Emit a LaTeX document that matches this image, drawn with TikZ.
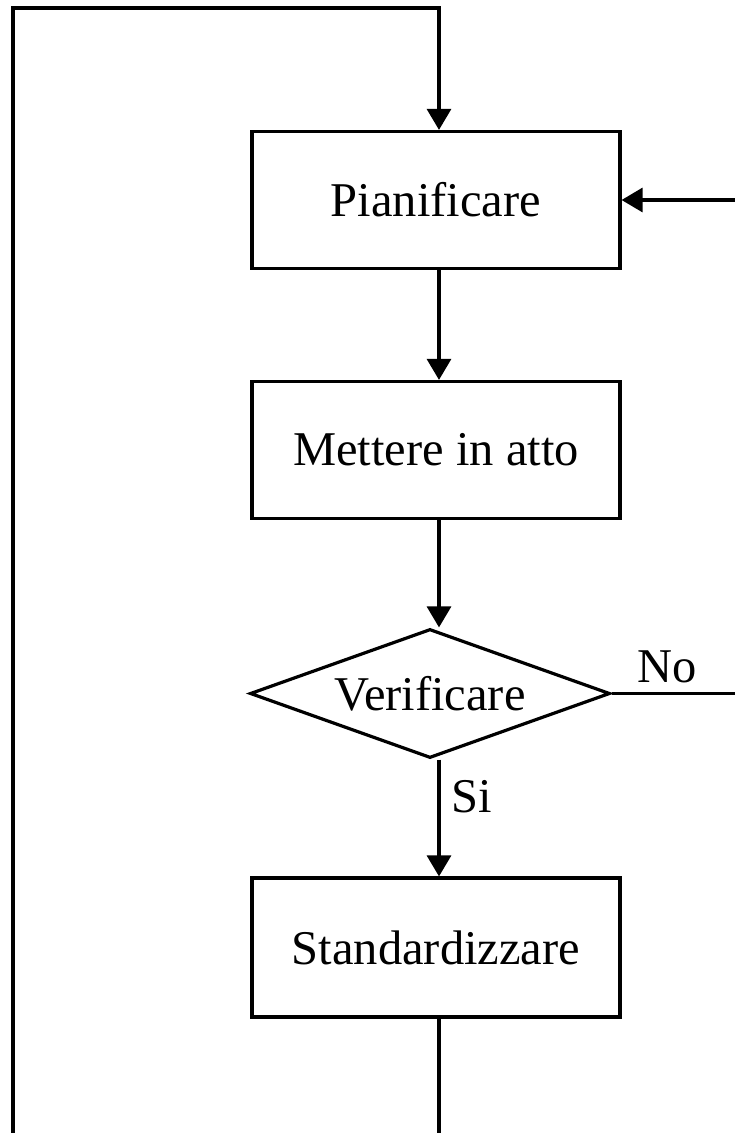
\documentclass[tikz,border=0pt]{standalone}
\usepackage{fontspec}
\setmainfont{Liberation Serif}
\usetikzlibrary{arrows.meta,shapes.geometric}
\begin{document}
\begin{tikzpicture}[x=1pt,y=-1pt,
  line width=3.2pt,
  txt/.style={font=\fontsize{48.5}{58}\selectfont},
  box/.style={draw, rectangle, minimum width=368pt, minimum height=137pt, inner sep=0pt, txt},
  decision/.style={draw, diamond, aspect=2.8, minimum width=360pt, minimum height=129pt, inner sep=0pt, txt},
  lbl/.style={txt, inner sep=0pt},
  arr/.style={-{Triangle[length=21pt,width=24pt]}},
]
\useasboundingbox (0,0) rectangle (735,1133);
\clip (0,0) rectangle (735,1133);

\node[box] (P) at (436,200) {Pianificare};
\node[box] (M) at (436,450) {Mettere in atto};
\node[decision] (V) at (430,693.5) {Verificare};
\node[box, minimum height=139pt] (S) at (436,947.5) {Standardizzare};

\coordinate (axis) at (439,0);
\coordinate (topL) at (13,8);
\coordinate (topR) at (439,8);
\coordinate (botL) at (13,1140);
\coordinate (botS) at (439,1140);
\coordinate (rin) at (740,200);
\coordinate (nout) at (740,693.5);

\draw[arr] (botL) -- (topL) -- (topR) -- (P.north -| axis);
\draw[arr] (rin) -- (P.east);
\draw[arr] (P.south -| axis) -- (M.north -| axis);
\draw[arr] (M.south -| axis) -- (V.north -| axis);
\draw[arr] (V.south -| axis) -- (S.north -| axis);
\draw (S.south -| axis) -- (botS);
\draw (V.east) -- (nout);

\node[lbl, anchor=base] (no) at (667,682) {No};
\node[lbl, anchor=base west] (si) at (450,812) {Si};
\end{tikzpicture}
\end{document}
